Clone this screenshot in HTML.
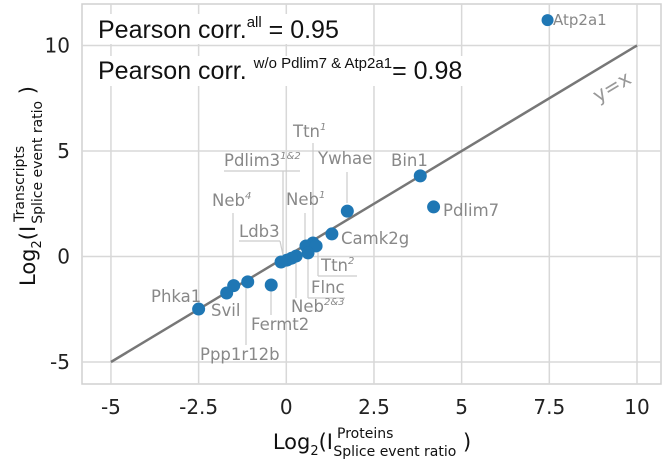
<!DOCTYPE html>
<html><head><meta charset="utf-8">
<style>
html,body{margin:0;padding:0;background:#fff;}
svg{display:block;font-family:"DejaVu Sans","Liberation Sans",sans-serif;}
</style></head>
<body>
<svg id="chart" width="666" height="461" viewBox="0 0 666 461"></svg>
<script>
const names = ["Atp2a1","Bin1","Pdlim7","Ywhae","Camk2g","Ttn1","Neb1","Ttn2","Flnc","Neb2&3","Pdlim3a","Pdlim3b","Ldb3","Fermt2","Ppp1r12b","Neb4","Svil","Phka1"];
const xVals = [7.45,3.82,4.2,1.74,1.3,0.76,0.56,0.85,0.62,0.28,0.02,0.15,-0.15,-0.43,-1.1,-1.5,-1.7,-2.5];
const yVals = [11.2,3.82,2.35,2.15,1.07,0.64,0.5,0.5,0.17,0.02,-0.17,-0.08,-0.26,-1.35,-1.2,-1.38,-1.73,-2.49];
const xTicks = [-5,-2.5,0,2.5,5,7.5,10];
const xTickLabels = ["-5","-2.5","0","2.5","5","7.5","10"];
const yTicks = [-5,0,5,10];
const yTickLabels = ["-5","0","5","10"];

const NS="http://www.w3.org/2000/svg";
const svg=document.getElementById('chart');
const sx=v=>286.3+v*35.07;
const sy=v=>256.5-v*21.1;
function el(tag,attrs,parent){const e=document.createElementNS(NS,tag);for(const k in attrs)e.setAttribute(k,attrs[k]);(parent||svg).appendChild(e);return e;}

const frame=el('rect',{x:82,y:4,width:579,height:380,fill:'none',stroke:'#d0d0d0','stroke-width':1.5});


xTicks.forEach((t,i)=>{
  const g=el('line',{x1:sx(t),x2:sx(t),y1:4,y2:384,stroke:'#d8d8d8','stroke-width':1.5});
  
  
  const tx=el('text',{x:sx(t),y:414,'text-anchor':'middle','font-size':20,fill:'#222'});
  tx.textContent=xTickLabels[i];
  
  
});
yTicks.forEach((t,i)=>{
  const g=el('line',{x1:82,x2:661,y1:sy(t),y2:sy(t),stroke:'#d8d8d8','stroke-width':1.5});
  
  
  const tx=el('text',{x:70,y:sy(t)+7,'text-anchor':'end','font-size':20,fill:'#222'});
  tx.textContent=yTickLabels[i];
  
  
});
const idl=el('line',{x1:sx(-5),y1:sy(-5),x2:sx(10),y2:sy(10),stroke:'#777','stroke-width':2.5});


const yx=el('text',{x:0,y:0,'font-size':20,fill:'#999',transform:'translate(598,103) rotate(-31)'});
yx.textContent='y=x';



const leaders=[[313,143,313,240],[224,171,300,171],[283,171,283,255],[233,213,233,280],[239,241,280,241],[280,241,283,255],[305,213,305,240],[347,172,347,203],[296,298,296,262],[318,276,357,276],[318,276,318,252],[308,298,345,298],[308,298,308,258],[271,315,271,291],[246,345,246,288]];
leaders.forEach(l=>{
  const ln=el('line',{x1:l[0],y1:l[1],x2:l[2],y2:l[3],stroke:'#ccc','stroke-width':1.2});
  
  
});

xVals.forEach((v,i)=>{
  const c=el('circle',{cx:sx(v),cy:sy(yVals[i]),r:i===0?6:6.5,fill:'#1f77b4'});
  
  
});

const labels=[
 ['Atp2a1',553,25,''],['Bin1',391,166,''],['Pdlim7',443,216,''],['Ywhae',318,164,''],['Camk2g',341,244,''],
 ['Ttn',293,137,'1'],['Neb',286,205,'1'],['Ttn',321,271,'2'],['Flnc',311,293,''],['Neb',291,312,'2&3'],
 ['Pdlim3',224,166,'1&2'],['Ldb3',239,237,''],['Fermt2',251,330,''],['Ppp1r12b',200,360,''],['Neb',212,206,'4'],
 ['Svil',211,316,''],['Phka1',151,302,'']];
labels.forEach(l=>{
  const t=el('text',{x:l[1],y:l[2],'font-size':l[0]==='Atp2a1'?15:16.5,fill:'#888'});
  t.textContent=l[0];
  if(l[3]){const s=el('tspan',{'font-size':10,'font-style':'italic',dy:-7},t);s.textContent=l[3];}
  
  
});

const bg1=el('rect',{x:96,y:14,width:268,height:30,fill:'#fff'});


const bg2=el('rect',{x:96,y:56,width:426,height:30,fill:'#fff'});


const t1=el('text',{x:98,y:38,'font-size':25,fill:'#111','font-family':'Liberation Sans, sans-serif'});
t1.innerHTML='Pearson corr.<tspan font-size="15" dy="-11">all</tspan><tspan dy="11"> = 0.95</tspan>';


const t2=el('text',{x:98,y:79,'font-size':25,fill:'#111','font-family':'Liberation Sans, sans-serif'});
t2.innerHTML='Pearson corr. <tspan font-size="15" dy="-11">w/o Pdlim7 &amp; Atp2a1</tspan><tspan dy="11">= 0.98</tspan>';



const xt=el('text',{x:372,y:449,'text-anchor':'middle','font-size':21,fill:'#111'});
xt.innerHTML='Log<tspan font-size="13" dy="6">2</tspan><tspan dy="-6">(I</tspan><tspan font-size="14" dx="4" dy="-11">Proteins</tspan><tspan font-size="14" dx="-60" dy="18">Splice event ratio</tspan><tspan dy="-7"> )</tspan>';


const yt=el('text',{x:0,y:0,'text-anchor':'middle','font-size':21,fill:'#111',transform:'translate(35,186) rotate(-90)'});
yt.innerHTML='Log<tspan font-size="13" dy="6">2</tspan><tspan dy="-6">(I</tspan><tspan font-size="14" dx="4" dy="-11">Transcripts</tspan><tspan font-size="14" dx="-78" dy="18">Splice event ratio</tspan><tspan dy="-7"> )</tspan>';


</script>
</body></html>
